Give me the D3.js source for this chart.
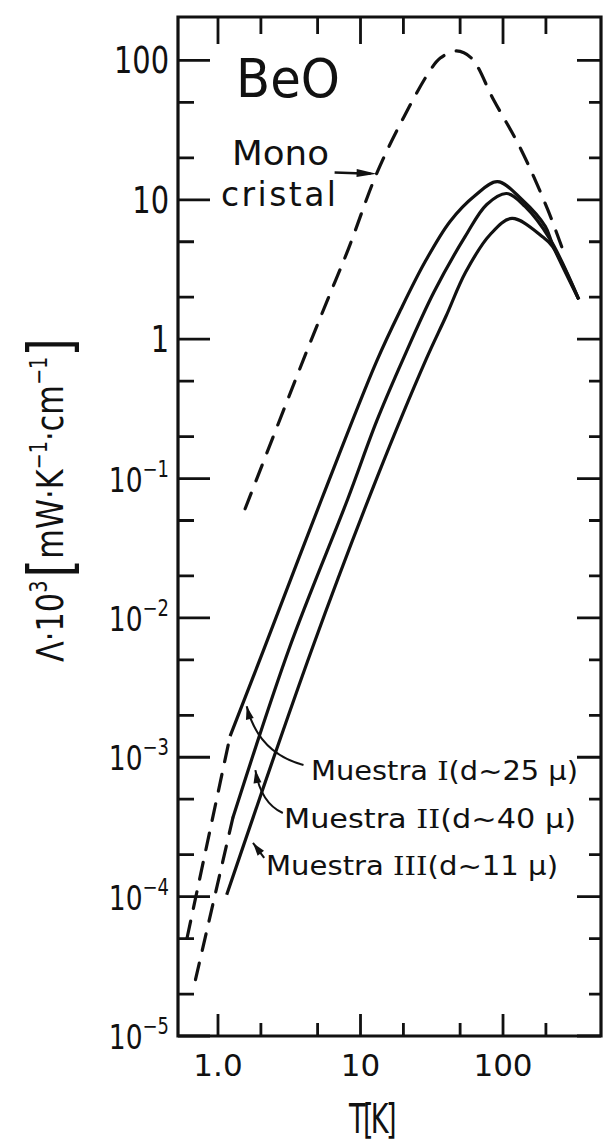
<!DOCTYPE html>
<html><head><meta charset="utf-8">
<script src="https://cdn.jsdelivr.net/npm/d3@7"></script>
<style>body{margin:0;background:#fff}text{font-family:"DejaVu Sans",sans-serif;fill:#111}</style>
</head><body><svg id="c" width="605" height="1147"></svg>
<script>
// ---------- data ----------
const xTicksMajor = [1, 10, 100];
const xTickLabels = ["1.0", "10", "100"];
const xTicksMinor = [2, 5, 20, 50, 200];
const yTicksMajor = [1e-5, 1e-4, 1e-3, 1e-2, 1e-1, 1, 10, 100];
const yTickBase = ["10", "10", "10", "10", "10", "1", "10", "100"];
const yTickExp  = ["−5", "−4", "−3", "−2", "−1", "", "", ""];
const yTicksMinor = [2e-5, 5e-5, 2e-4, 5e-4, 2e-3, 5e-3, 2e-2, 5e-2, 0.2, 0.5, 2, 5, 20, 50];

// Mono cristal (dashed)
const monoT = [1.55, 4.17, 5.89, 8.2, 12.97, 20.2, 31, 36.3, 47.1, 60, 86, 134, 206, 265];
const monoL = [0.0607, 0.807, 1.93, 4.41, 15.4, 39.5, 85.7, 104, 117, 104, 52, 22.9, 8.5, 4.27];

// Muestra I
const s1ExtT = [0.607, 1.216];
const s1ExtL = [5.07e-5, 1.42e-3];
const s1T = [1.216, 2.11, 5.35, 12.9, 19.2, 28.5, 42.5, 63.4, 91.6, 135.5, 198, 225, 340];
const s1L = [1.42e-3, 6.04e-3, 0.0716, 0.685, 1.64, 3.62, 7.0, 10.7, 13.5, 10.05, 6.44, 4.63, 1.93];
// Muestra II
const s2ExtT = [0.695, 1.27];
const s2ExtL = [2.54e-5, 3.66e-4];
const s2T = [1.27, 3.16, 8.15, 13.0, 19.9, 32.7, 54.3, 76.9, 106, 142.6, 214, 340];
const s2L = [3.66e-4, 6.04e-3, 0.0716, 0.259, 0.719, 2.17, 5.46, 9.26, 11.1, 8.96, 5.2, 1.93];
// Muestra III
const s3T = [1.151, 4.58, 13.2, 28.9, 39.8, 54.6, 81.3, 115.6, 188, 222, 340];
const s3L = [1.03e-4, 6.04e-3, 0.1045, 0.719, 1.46, 3.02, 5.64, 7.35, 5.46, 4.63, 1.93];

// annotation anchors (T, Λ)
const monoArrow = [[6.58, 15.7], [12.97, 15.4]];
const lead1 = [[3.98, 8.8e-4], [1.92, 1.07e-3], [1.59, 2.32e-3]];
const lead2 = [[2.85, 3.98e-4], [1.995, 4.7e-4], [1.83, 8.09e-4]];
const lead3 = [[2.11, 1.9e-4], [1.76, 2.43e-4]];

// ---------- drawing ----------
const svg = d3.select("#c");
const M = {l: 178, r: 601, t: 17, b: 1036};
const x = d3.scaleLog().domain([0.524, 487]).range([M.l, M.r]);
const y = d3.scaleLog().domain([1e-5, 205]).range([M.b, M.t]);
const ink = "#111";

// frame
svg.append("path")
  .attr("d", `M${M.l},${M.t}H${M.r}V${M.b}H${M.l}Z`)
  .attr("fill", "none").attr("stroke", ink).attr("stroke-width", 3.2);

// ticks (inward, on all four sides)
function yTicks(vals, x0, len) {
  const d = vals.map(v => `M${x0},${y(v)}H${x0 + len}`).join("");
  svg.append("path").attr("d", d).attr("fill", "none").attr("stroke", ink).attr("stroke-width", 2.8);
}
function xTicks(vals, y0, len) {
  const d = vals.map(v => `M${x(v)},${y0}V${y0 + len}`).join("");
  svg.append("path").attr("d", d).attr("fill", "none").attr("stroke", ink).attr("stroke-width", 2.8);
}
yTicks(yTicksMajor, M.l, 32);
yTicks(yTicksMinor, M.l, 16);
yTicks(yTicksMajor, M.r, -24);
yTicks(yTicksMinor, M.r, -12);
xTicks(xTicksMajor, M.b, -22);
xTicks(xTicksMinor, M.b, -13);
xTicks(xTicksMajor, M.t, 27);
xTicks(xTicksMinor, M.t, 17);

// y tick labels
yTicksMajor.forEach((v, i) => {
  const g = svg.append("g").attr("transform", `translate(169,${y(v) + 13}) scale(0.78,1)`);
  const t = g.append("text").attr("text-anchor", "end").attr("font-size", yTickExp[i] ? 34 : 37);
  t.append("tspan").text(yTickBase[i]);
  if (yTickExp[i]) t.append("tspan").attr("font-size", 23).attr("dy", -15).text(yTickExp[i]);
});
// x tick labels
xTicksMajor.forEach((v, i) => {
  svg.append("text").attr("x", x(v)).attr("y", 1076).attr("text-anchor", "middle")
    .attr("font-size", 31).text(xTickLabels[i]);
});

// curves
const line = d3.line().x(d => x(d[0])).y(d => y(d[1])).curve(d3.curveCatmullRom.alpha(0.5));
const zip = (a, b) => a.map((v, i) => [v, b[i]]);
function curve(T, L, dashed) {
  svg.append("path").attr("d", line(zip(T, L))).attr("fill", "none").attr("stroke", ink)
    .attr("stroke-width", 3.2).attr("stroke-linecap", dashed ? "round" : "butt")
    .attr("stroke-dasharray", dashed ? "17,13" : null);
}
curve(monoT, monoL, true);
curve(s1ExtT, s1ExtL, true);
curve(s2ExtT, s2ExtL, true);
curve(s1T, s1L, false);
curve(s2T, s2L, false);
curve(s3T, s3L, false);

// annotations
const P = d => [x(d[0]), y(d[1])];
function head(tip, from, len, w) {
  const dx = tip[0] - from[0], dy = tip[1] - from[1], n = Math.hypot(dx, dy);
  const ux = dx / n, uy = dy / n;
  const bx = tip[0] - ux * len, by = tip[1] - uy * len;
  svg.append("path").attr("d", `M${tip[0]},${tip[1]}L${bx - uy * w / 2},${by + ux * w / 2}L${bx + uy * w / 2},${by - ux * w / 2}Z`)
    .attr("fill", ink);
}
{
  const a = P(monoArrow[0]), b = P(monoArrow[1]);
  svg.append("path").attr("d", `M${a[0]},${a[1]}L${b[0] - 6},${b[1]}`)
    .attr("fill", "none").attr("stroke", ink).attr("stroke-width", 2.6);
  head(b, a, 20, 8);
}
function leader(pts) {
  const p = pts.map(P);
  const d = p.length === 3 ? `M${p[0]}Q${p[1]} ${p[2]}` : `M${p[0]}L${p[1]}`;
  svg.append("path").attr("d", d).attr("fill", "none").attr("stroke", ink).attr("stroke-width", 2);
  head(p[p.length - 1], p[p.length - 2], 13, 8);
}
leader(lead1); leader(lead2); leader(lead3);

// texts
svg.append("text").attr("x", 236).attr("y", 97).attr("font-size", 54)
  .attr("textLength", 104).attr("lengthAdjust", "spacingAndGlyphs").text("BeO");
svg.append("text").attr("x", 232).attr("y", 165).attr("font-size", 33)
  .attr("textLength", 97).attr("lengthAdjust", "spacingAndGlyphs").text("Mono");
svg.append("text").attr("x", 221).attr("y", 206).attr("font-size", 33)
  .attr("textLength", 115).attr("lengthAdjust", "spacing").text("cristal");

function sampleLabel(xp, yp, roman, val, len) {
  const t = svg.append("text").attr("x", xp).attr("y", yp).attr("font-size", 26)
    .attr("textLength", len).attr("lengthAdjust", "spacingAndGlyphs");
  t.append("tspan").text("Muestra ");
  t.append("tspan").attr("font-family", "DejaVu Serif").text(roman);
  t.append("tspan").text(`(d~${val} µ)`);
}
sampleLabel(311, 780, "I", "25", 267);
sampleLabel(284, 828, "II", "40", 292);
sampleLabel(266, 875, "III", "11", 292);

// x title
svg.append("g").attr("transform", "translate(349,1133) scale(0.68,1)")
  .append("text").attr("font-size", 40).attr("letter-spacing", -4).text("T[K]");

// y title
{
  const g = svg.append("g").attr("transform", "translate(63,500) rotate(-90)");
  const t = g.append("text").attr("x", 0).attr("y", 0).attr("text-anchor", "middle").attr("font-size", 38)
    .attr("textLength", 324).attr("lengthAdjust", "spacingAndGlyphs");
  t.append("tspan").text("Λ·10");
  t.append("tspan").attr("font-size", 24).attr("dy", -16).text("3");
  t.append("tspan").attr("font-size", 60).attr("dy", 24).attr("dx", 4).text("[");
  t.append("tspan").attr("font-size", 38).attr("dy", -8).text("mW·K");
  t.append("tspan").attr("font-size", 24).attr("dy", -16).text("−1");
  t.append("tspan").attr("font-size", 38).attr("dy", 16).text("·cm");
  t.append("tspan").attr("font-size", 24).attr("dy", -16).text("−1");
  t.append("tspan").attr("font-size", 60).attr("dy", 24).text("]");
}
</script></body></html>
